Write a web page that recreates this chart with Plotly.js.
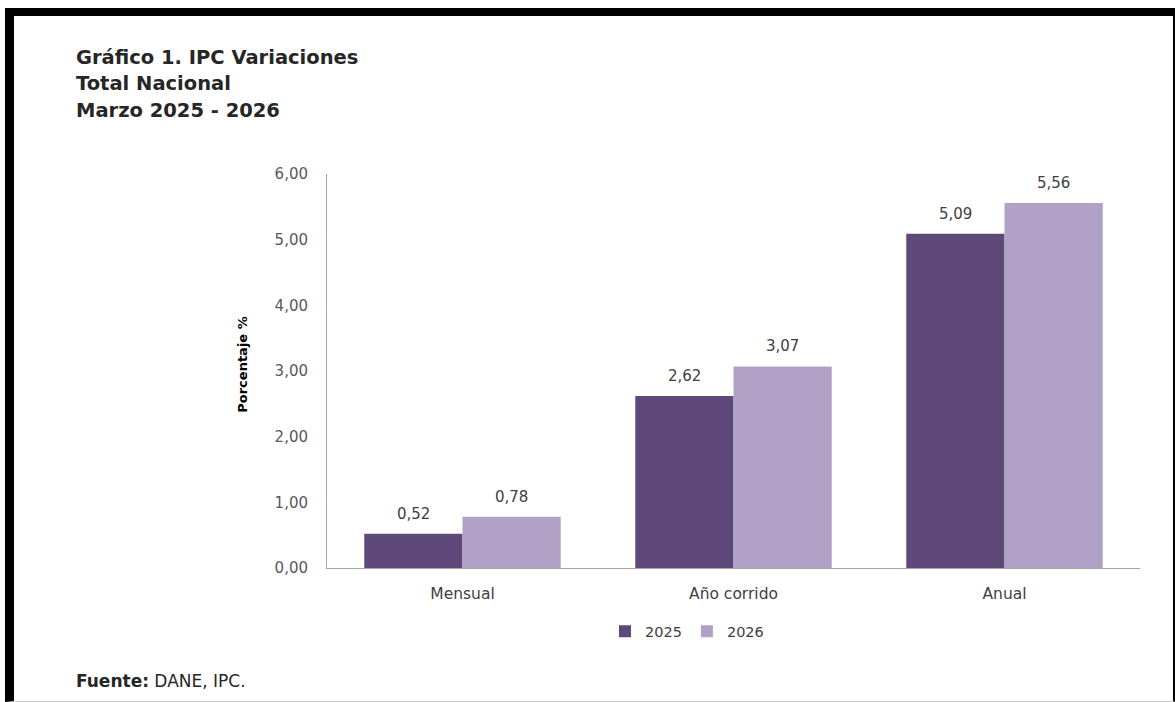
<!DOCTYPE html>
<html>
<head>
<meta charset="utf-8">
<script src="https://cdn.plot.ly/plotly-3.0.1.min.js"></script>
<style>
  html, body { margin: 0; padding: 0; background: #ffffff; }
  #wrap { position: relative; width: 1175px; height: 702px; overflow: hidden; }
  #chart { position: absolute; left: 0; top: 0; width: 1175px; height: 702px; }
  #frame { position: absolute; left: 5px; top: 8px; width: 1159px; height: 685px;
           border-top: 8px solid #000; border-left: 9px solid #000; border-right: 2px solid #000;
           border-bottom: 1px solid #d0d0d0; pointer-events: none; }
</style>
</head>
<body>
<div id="wrap">
  <div id="chart"></div>
  <div id="frame"></div>
</div>
<script>
// ---- data ----
const categories = ["Mensual", "Año corrido", "Anual"];
const seriesNames = ["2025", "2026"];
const values2025 = [0.52, 2.62, 5.09];
const values2026 = [0.78, 3.07, 5.56];
const yTickValues = [0, 1, 2, 3, 4, 5, 6];
const titleLines = ["Gráfico 1. IPC Variaciones", "Total Nacional", "Marzo 2025 - 2026"];
const yAxisTitle = "Porcentaje %";
const sourceBold = "Fuente:";
const sourceText = " DANE, IPC.";

// ---- style ----
const colors = ["#5F497A", "#B2A1C7"];
const W = 1175, H = 702;
const plotL = 327, plotR = 1140, plotT = 174, plotB = 568.5;
const fontFamily = "'DejaVu Sans', 'Open Sans', sans-serif";
const px2x = p => (p - plotL) / (plotR - plotL);
const px2y = p => (plotB - p) / (plotB - plotT);

const fmt = v => v.toFixed(2).replace('.', ',');

const seriesValues = [values2025, values2026];
const traces = seriesNames.map((name, i) => ({
  type: 'bar',
  name: name,
  x: categories,
  y: seriesValues[i],
  marker: { color: colors[i], line: { width: 0 } },
  hoverinfo: 'x+y'
}));

const annotations = [];
titleLines.forEach((t, i) => {
  annotations.push({
    text: '<b>' + t + '</b>', xref: 'paper', yref: 'paper',
    x: px2x(74), y: px2y(57 + i * 26.5), xanchor: 'left', yanchor: 'middle',
    showarrow: false, font: { family: fontFamily, size: 19.5, color: '#262626' }
  });
});
annotations.push({
  text: '<b>' + yAxisTitle + '</b>', xref: 'paper', yref: 'paper',
  x: px2x(243), y: px2y(365), xanchor: 'center', yanchor: 'middle', textangle: -90,
  showarrow: false, font: { family: fontFamily, size: 13, color: '#000000' }
});
annotations.push({
  text: '<b>' + sourceBold + '</b>' + sourceText, xref: 'paper', yref: 'paper',
  x: px2x(74), y: px2y(682), xanchor: 'left', yanchor: 'middle',
  showarrow: false, font: { family: fontFamily, size: 17, color: '#262626' }
});
// data labels
seriesValues.forEach((vals, i) => {
  vals.forEach((v, j) => {
    annotations.push({
      text: fmt(v), xref: 'x', yref: 'y', x: categories[j], y: v,
      xshift: (i === 0 ? -1 : 1) * 49, yshift: 9, yanchor: 'bottom', xanchor: 'center',
      showarrow: false, font: { family: fontFamily, size: 15, color: '#404040' }
    });
  });
});

const layout = {
  width: W, height: H,
  margin: { l: plotL, r: W - plotR, t: plotT, b: H - plotB, pad: 0 },
  paper_bgcolor: '#ffffff', plot_bgcolor: '#ffffff',
  separators: ',.',
  barmode: 'group',
  bargap: 0.275,
  bargroupgap: 0,
  showlegend: true,
  legend: {
    orientation: 'h', x: px2x(605), y: px2y(632), xanchor: 'left', yanchor: 'middle',
    font: { family: fontFamily, size: 14.5, color: '#404040' },
    itemwidth: 30, tracegroupgap: 0, bgcolor: 'rgba(0,0,0,0)'
  },
  xaxis: {
    type: 'category', showgrid: false, zeroline: false,
    showline: true, linecolor: '#a6a6a6', linewidth: 1,
    ticks: '', ticklabelstandoff: 11,
    tickfont: { family: fontFamily, size: 15.5, color: '#404040' },
    fixedrange: true
  },
  yaxis: {
    range: [0, 6], tickvals: yTickValues, tickformat: '.2f',
    showgrid: false, zeroline: false,
    showline: true, linecolor: '#a6a6a6', linewidth: 1,
    ticks: '', ticklabelstandoff: 15,
    tickfont: { family: fontFamily, size: 15, color: '#595959' },
    fixedrange: true
  },
  annotations: annotations
};

Plotly.newPlot('chart', traces, layout, { displayModeBar: false, staticPlot: true });
</script>
</body>
</html>
